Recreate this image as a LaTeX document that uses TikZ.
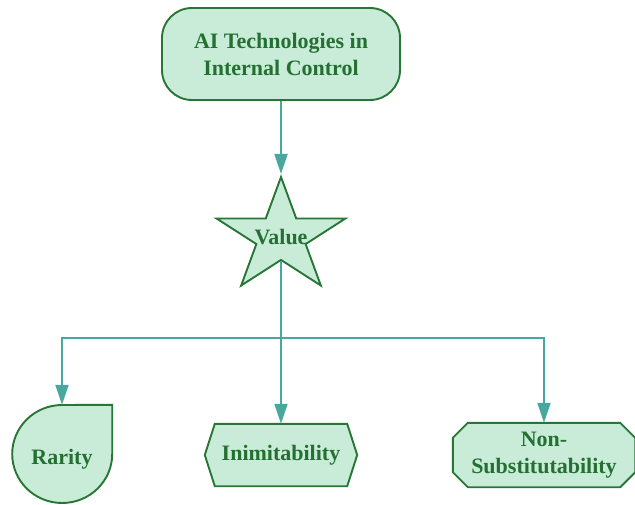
\documentclass[tikz,border=0pt]{standalone}
\usepackage{fontspec}
\setmainfont{Liberation Serif}
\usetikzlibrary{arrows.meta,positioning,shapes.geometric,backgrounds}
\definecolor{boxfill}{RGB}{201,236,216}
\definecolor{boxline}{RGB}{40,118,54}
\definecolor{boxtext}{RGB}{36,112,50}
\definecolor{flowline}{RGB}{72,168,158}
\tikzset{
  box/.style={draw=boxline,fill=boxfill,line width=1.9pt,text=boxtext,
              font=\fontsize{22}{27}\selectfont\bfseries,align=center},
  lbl/.style={text=boxtext,font=\fontsize{22}{27}\selectfont\bfseries,
              align=center,inner sep=0pt},
  outline/.style={draw=boxline,fill=boxfill,line width=1.9pt},
  link/.style={draw=flowline,line width=2pt},
  flow/.style={link,-{Triangle[length=20pt,width=13pt]}}
}
\begin{document}
\begin{tikzpicture}[x=1pt,y=1pt]
\useasboundingbox (0,0) rectangle (635,504);
% top node and star
\node[box,rounded corners=30pt,minimum width=238pt,minimum height=92pt] (tech) at (281,450) {AI Technologies in\\Internal Control};
\node[outline,star,star points=5,star point ratio=2.618,minimum size=120pt,inner sep=0pt,xscale=1.13,transform shape] (val) at (281,267) {};
\node[lbl] (valtxt) at (val.center) {Value};
\coordinate (split) at (281,166);

% leaves
\node[lbl,minimum width=100pt,minimum height=98pt,text height=25pt] (rar) at (62,50) {Rarity};
\node[lbl,minimum width=152pt,minimum height=62pt] (inim) at (281,49) {Inimitability};
\node[lbl,minimum width=182pt,minimum height=64pt] (subst) at (544,49) {Non-\\Substitutability};

\begin{scope}[on background layer]
\draw[outline] (rar.north east) -- (rar.east) arc[start angle=0,end angle=-270,x radius=50pt,y radius=49pt] -- cycle;
\draw[outline] (inim.west) -- ([xshift=10pt]inim.north west) -- ([xshift=-10pt]inim.north east) -- (inim.east)
  -- ([xshift=-10pt]inim.south east) -- ([xshift=10pt]inim.south west) -- cycle;
\draw[outline] ([yshift=-15pt]subst.north west) -- ([xshift=15pt]subst.north west) -- ([xshift=-15pt]subst.north east)
  -- ([yshift=-15pt]subst.north east) -- ([yshift=15pt]subst.south east) -- ([xshift=-15pt]subst.south east)
  -- ([xshift=15pt]subst.south west) -- ([yshift=15pt]subst.south west) -- cycle;
\end{scope}

% connectors
\draw[flow] (tech.south) -- (val.north);
\draw[link] (val.south) -- (split);
\draw[flow] (split) -| (rar.north);
\draw[flow] (split) -- (inim.north);
\draw[flow] (split) -| (subst.north);
\end{tikzpicture}
\end{document}
